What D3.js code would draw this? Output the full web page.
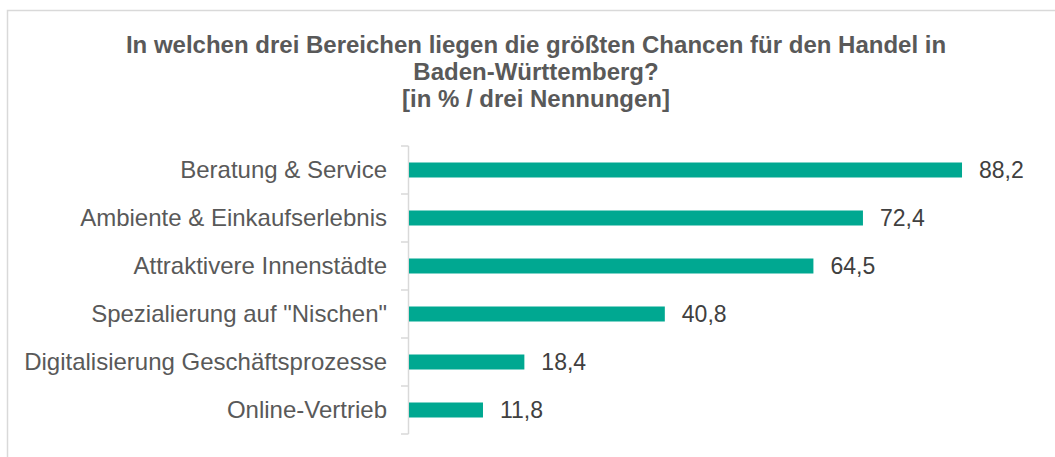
<!DOCTYPE html>
<html lang="de">
<head>
<meta charset="utf-8">
<title>Chancen für den Handel</title>
<script src="https://cdn.jsdelivr.net/npm/d3@7"></script>
<style>
  body { margin: 0; background: #fff; }
  svg { display: block; font-family: "Liberation Sans", Arial, sans-serif; }
  .title { font-weight: bold; fill: #595959; font-size: 24px; }
  .cat { fill: #595959; font-size: 24px; }
  .val { fill: #404040; font-size: 23px; }
</style>
</head>
<body>
<div id="chart"></div>
<script>
var categories = ["Beratung & Service", "Ambiente & Einkaufserlebnis", "Attraktivere Innenstädte",
                  "Spezialierung auf \"Nischen\"", "Digitalisierung Geschäftsprozesse", "Online-Vertrieb"];
var values = [88.2, 72.4, 64.5, 40.8, 18.4, 11.8];
var titleLines = ["In welchen drei Bereichen liegen die größten Chancen für den Handel in",
                  "Baden-Württemberg?", "[in % / drei Nennungen]"];

var width = 1055, height = 457;
var svg = d3.select("#chart").append("svg")
    .attr("width", width)
    .attr("height", height);

// chart frame
svg.append("rect")
    .attr("x", 7.5).attr("y", 10.5)
    .attr("width", width).attr("height", height)
    .attr("fill", "none")
    .attr("stroke", "#d9d9d9")
    .attr("stroke-width", 1.5);

svg.append("g").selectAll("text")
    .data(titleLines)
  .enter().append("text")
    .attr("class", "title")
    .attr("x", 536)
    .attr("y", function(d, i) { return 53 + i * 27; })
    .attr("text-anchor", "middle")
    .text(function(d) { return d; });

var x = d3.scaleLinear().domain([0, 100]).range([409, 409 + 627]);
var y = d3.scaleBand().domain(categories).range([146, 434]);
var barH = 15;

// axis line and ticks between categories
var axis = svg.append("g").attr("stroke", "#d9d9d9").attr("stroke-width", 1.5);
axis.append("line")
    .attr("x1", 408.5).attr("x2", 408.5)
    .attr("y1", y.range()[0]).attr("y2", y.range()[1]);
var bounds = categories.map(function(c) { return y(c); }).concat([y.range()[1]]);
axis.selectAll(".tick")
    .data(bounds)
  .enter().append("line")
    .attr("x1", 401).attr("x2", 408.5)
    .attr("y1", function(d) { return d; })
    .attr("y2", function(d) { return d; });

var rows = svg.append("g").selectAll("g")
    .data(categories)
  .enter().append("g");

rows.append("rect")
    .attr("x", x(0))
    .attr("y", function(d) { return y(d) + (y.bandwidth() - barH) / 2; })
    .attr("width", function(d, i) { return x(values[i]) - x(0); })
    .attr("height", barH)
    .attr("fill", "#00a891");

rows.append("text")
    .attr("class", "cat")
    .attr("x", 387)
    .attr("y", function(d) { return y(d) + y.bandwidth() / 2; })
    .attr("dy", "0.35em")
    .attr("text-anchor", "end")
    .text(function(d) { return d; });

rows.append("text")
    .attr("class", "val")
    .attr("x", function(d, i) { return x(values[i]) + 17; })
    .attr("y", function(d) { return y(d) + y.bandwidth() / 2; })
    .attr("dy", "0.35em")
    .text(function(d, i) { return String(values[i]).replace(".", ","); });
</script>
</body>
</html>
